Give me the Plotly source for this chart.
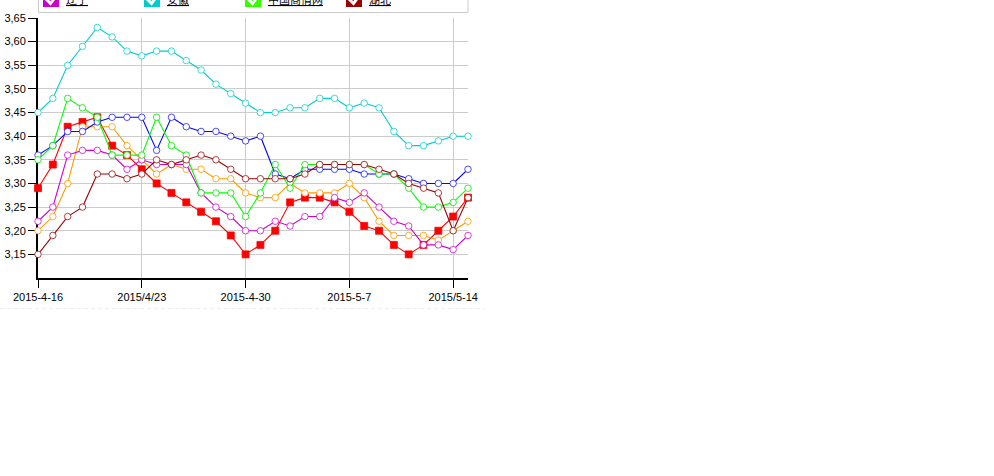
import plotly.graph_objects as go

dates = ["2015-4-%d" % d for d in range(16, 31)] + ["2015-5-%d" % d for d in range(1, 16)]
red = [3.29,3.34,3.42,3.43,3.44,3.38,3.36,3.33,3.30,3.28,3.26,3.24,3.22,3.19,3.15,3.17,3.20,3.26,3.27,3.27,3.26,3.24,3.21,3.20,3.17,3.15,3.17,3.20,3.23,3.27]
orange = [3.20,3.23,3.30,3.42,3.42,3.42,3.38,3.35,3.32,3.34,3.33,3.33,3.31,3.31,3.28,3.27,3.27,3.30,3.28,3.28,3.28,3.30,3.27,3.22,3.19,3.19,3.19,3.18,3.20,3.22]
blue = [3.36,3.38,3.41,3.41,3.43,3.44,3.44,3.44,3.37,3.44,3.42,3.41,3.41,3.40,3.39,3.40,3.32,3.31,3.33,3.33,3.33,3.33,3.32,3.32,3.32,3.31,3.30,3.30,3.30,3.33]
liaoning = [3.22,3.25,3.36,3.37,3.37,3.36,3.33,3.35,3.34,3.34,3.34,3.28,3.25,3.23,3.20,3.20,3.22,3.21,3.23,3.23,3.27,3.26,3.28,3.25,3.22,3.21,3.17,3.17,3.16,3.19]
anhui = [3.45,3.48,3.55,3.59,3.63,3.61,3.58,3.57,3.58,3.58,3.56,3.54,3.51,3.49,3.47,3.45,3.45,3.46,3.46,3.48,3.48,3.46,3.47,3.46,3.41,3.38,3.38,3.39,3.40,3.40]
zgsqw = [3.35,3.38,3.48,3.46,3.44,3.36,3.36,3.36,3.44,3.38,3.36,3.28,3.28,3.28,3.23,3.28,3.34,3.29,3.34,3.34,3.34,3.34,3.34,3.32,3.32,3.29,3.25,3.25,3.26,3.29]
hubei = [3.15,3.19,3.23,3.25,3.32,3.32,3.31,3.32,3.35,3.34,3.35,3.36,3.35,3.33,3.31,3.31,3.31,3.31,3.32,3.34,3.34,3.34,3.34,3.33,3.32,3.30,3.29,3.28,3.20,3.27]

y_ticks = [3.15,3.20,3.25,3.30,3.35,3.40,3.45,3.50,3.55,3.60,3.65]
y_labels = ["3,15","3,20","3,25","3,30","3,35","3,40","3,45","3,50","3,55","3,60","3,65"]
x_tick_labels = ["2015-4-16","2015/4/23","2015-4-30","2015-5-7","2015/5-14"]
x_tick_vals = [dates[0], dates[7], dates[14], dates[21], dates[28]]

legend_names = ["辽宁","安徽","中国商情网","湖北"]
legend_colors = ["#cc00cc","#00cccc","#33ff00","#990000"]

L, R, T, B = 38, 468, 18, 278
def px(x): return (x - L) / (R - L)
def py(y): return (B - y) / (B - T)

fig = go.Figure()
series = [
    ("red", red, "#ff0000", "rgba(255,0,0,0.75)", "square", "#ff0000", 7),
    ("orange", orange, "#ff9900", "rgba(255,153,0,0.8)", "circle", "#ffffff", 6.5),
    ("blue", blue, "#0000ff", "rgba(0,0,255,0.7)", "circle", "#ffffff", 6.5),
    ("辽宁", liaoning, "#cc00cc", "rgba(204,0,204,0.75)", "circle", "#ffffff", 6.5),
    ("安徽", anhui, "#00cccc", "rgba(0,204,204,0.75)", "circle", "#ffffff", 6.5),
    ("中国商情网", zgsqw, "#00ff00", "rgba(0,230,0,0.8)", "circle", "#ffffff", 6.5),
    ("湖北", hubei, "#990000", "rgba(153,0,0,0.75)", "circle", "#ffffff", 6.5),
]
for name, vals, col, edge, sym, fill, size in series:
    fig.add_trace(go.Scatter(x=dates, y=vals, name=name, mode="lines+markers", cliponaxis=False,
        line=dict(color=col, width=1.1),
        marker=dict(symbol=sym, size=size, color=fill, line=dict(color=edge, width=1))))

shapes = [
    dict(type="rect", xref="paper", yref="paper", x0=px(38.5), x1=px(468), y0=py(12.5), y1=py(-5),
         line=dict(color="#cccccc", width=1), fillcolor="rgba(0,0,0,0)"),
    dict(type="line", xref="paper", yref="paper", x0=px(0), x1=px(485), y0=py(308.5), y1=py(308.5),
         line=dict(color="#eeeeee", width=1, dash="4px,3px")),
]
annotations = []
text_x = [66, 167, 268, 369]
swatch_x = [43, 144, 245, 346]
for nm, col, tx, sx in zip(legend_names, legend_colors, text_x, swatch_x):
    shapes.append(dict(type="rect", xref="paper", yref="paper", x0=px(sx), x1=px(sx+16), y0=py(7), y1=py(-8),
                       line=dict(width=0), fillcolor=col))
    shapes.append(dict(type="path", xref="paper", yref="paper",
                       path="M %f,%f L %f,%f L %f,%f" % (px(sx+3), py(-1), px(sx+7.5), py(3.5), px(sx+13), py(-4)),
                       line=dict(color="#ffffff", width=3)))
    annotations.append(dict(text="<u>%s</u>" % nm, xref="paper", yref="paper", x=px(tx), y=py(-1),
                            xanchor="left", yanchor="middle", showarrow=False, xshift=-2,
                            font=dict(family="Noto Sans CJK SC", size=11, color="#000000")))

fig.update_layout(
    width=994, height=476, showlegend=False, paper_bgcolor="#ffffff", plot_bgcolor="#ffffff",
    margin=dict(l=L, r=994-R, t=T, b=476-B, pad=0),
    font=dict(family="Liberation Sans", size=11, color="#000000"),
    shapes=shapes, annotations=annotations,
    xaxis=dict(type="category", categoryorder="array", categoryarray=dates, range=[0, 29], automargin=False,
               tickmode="array", tickvals=x_tick_vals, ticktext=x_tick_labels,
               showgrid=True, gridcolor="#cccccc", gridwidth=1, zeroline=False,
               showline=True, linecolor="#000000", linewidth=2, ticks="outside", ticklen=8, tickwidth=1,
               tickcolor="#000000", layer="below traces", tickangle=0),
    yaxis=dict(range=[3.10, 3.65], tickmode="array", tickvals=y_ticks, ticktext=y_labels, automargin=False,
               showgrid=True, gridcolor="#cccccc", gridwidth=1, zeroline=False,
               showline=True, linecolor="#000000", linewidth=2, ticks="outside", ticklen=8, tickwidth=1,
               tickcolor="#000000", layer="below traces"),
)
fig.write_html("out.html", post_script="document.body.style.margin='0';", config={"displayModeBar": False})
